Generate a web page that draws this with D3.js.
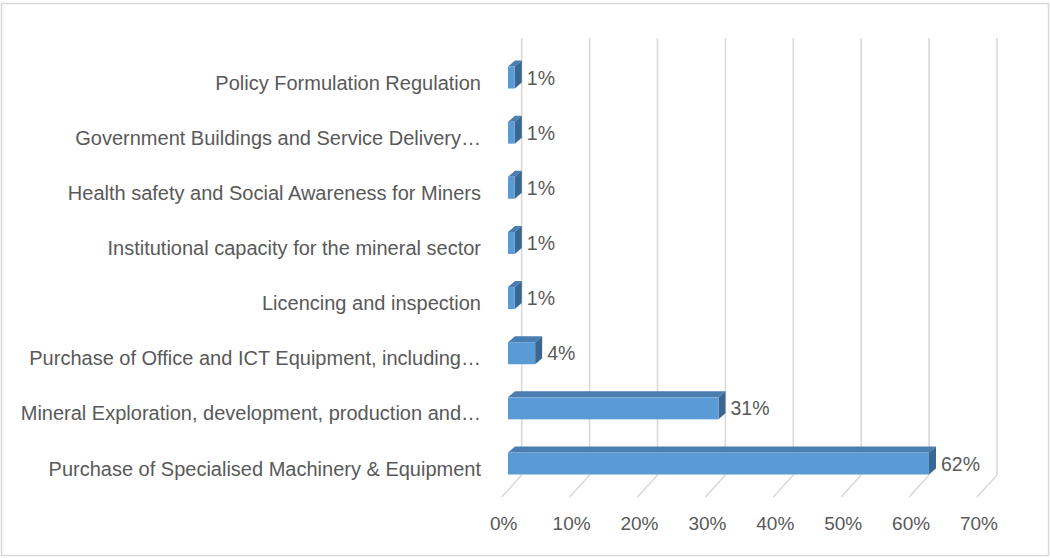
<!DOCTYPE html>
<html>
<head>
<meta charset="utf-8">
<script src="https://cdn.jsdelivr.net/npm/d3@7/dist/d3.min.js"></script>
<style>
  html, body { margin: 0; padding: 0; background: #fff; }
  svg { display: block; }
  text { font-family: "Liberation Sans", Arial, sans-serif; fill: #595959; }
</style>
</head>
<body>
<svg id="chart" width="1050" height="558"></svg>
<script>
// Budget share by programme area (top to bottom as drawn)
const categories = [
  "Policy Formulation Regulation",
  "Government Buildings and Service Delivery…",
  "Health safety and Social Awareness for Miners",
  "Institutional capacity for the mineral sector",
  "Licencing and inspection",
  "Purchase of Office and ICT Equipment, including…",
  "Mineral Exploration, development, production and…",
  "Purchase of Specialised Machinery & Equipment"
];
const shares = [0.01, 0.01, 0.01, 0.01, 0.01, 0.04, 0.31, 0.62];
const valueLabels = ["1%", "1%", "1%", "1%", "1%", "4%", "31%", "62%"];
const ticks = [0, 0.1, 0.2, 0.3, 0.4, 0.5, 0.6, 0.7];

const svg = d3.select("#chart");
const W = 1050, H = 558;

// outer chart border
svg.append("rect")
  .attr("x", 1.5).attr("y", 3.5)
  .attr("width", W - 3).attr("height", H - 6)
  .attr("fill", "#fff").attr("stroke", "#d9d9d9").attr("stroke-width", 1.5);

// 3D projection: back wall, floor front edge, bar front plane
const wallTop = 38, wallBottom = 475;
const floorDX = -20, floorDY = 22;
const xBack = d3.scaleLinear().domain([0, 0.7]).range([521.7, 997]);
const xFront = d3.scaleLinear().domain([0, 0.7]).range([508, 983.3]);
const barDX = 7, barDY = -6;   // depth of each bar
const barH = 22;

const yCenter = d3.scalePoint().domain(categories).range([77.5, 463.5]);

// gridlines on the back wall and floor
const grid = svg.append("g").attr("stroke", "#d9d9d9").attr("stroke-width", 1.6).attr("fill", "none");
grid.selectAll("line.v").data(ticks).join("line")
  .attr("class", "v")
  .attr("x1", d => xBack(d)).attr("x2", d => xBack(d))
  .attr("y1", wallTop).attr("y2", wallBottom);
grid.selectAll("line.f").data(ticks).join("line")
  .attr("class", "f")
  .attr("x1", d => xBack(d)).attr("y1", wallBottom)
  .attr("x2", d => xBack(d) + floorDX).attr("y2", wallBottom + floorDY);

// tick labels under the floor edge
svg.append("g").selectAll("text").data(ticks).join("text")
  .attr("x", d => xBack(d) + floorDX + 2)
  .attr("y", 530)
  .attr("text-anchor", "middle")
  .attr("font-size", 19)
  .text(d => d3.format(".0%")(d));

// bars drawn as prisms: front, top, side faces
const rows = categories.map((c, i) => ({ c, v: shares[i], label: valueLabels[i] }));
const bars = svg.append("g").selectAll("g").data(rows).join("g");

bars.append("path") // top face
  .attr("fill", "#4a7db0")
  .attr("d", d => {
    const x0 = xFront(0), x1 = xFront(d.v), y0 = yCenter(d.c) - barH / 2;
    return `M${x0},${y0}L${x0 + barDX},${y0 + barDY}L${x1 + barDX},${y0 + barDY}L${x1},${y0}Z`;
  });
bars.append("path") // right side face
  .attr("fill", "#3a6791")
  .attr("d", d => {
    const x1 = xFront(d.v), y0 = yCenter(d.c) - barH / 2, y1 = y0 + barH;
    return `M${x1},${y0}L${x1 + barDX},${y0 + barDY}L${x1 + barDX},${y1 + barDY}L${x1},${y1}Z`;
  });
bars.append("rect") // front face
  .attr("fill", "#5b9bd5")
  .attr("x", xFront(0))
  .attr("y", d => yCenter(d.c) - barH / 2)
  .attr("width", d => xFront(d.v) - xFront(0))
  .attr("height", barH);

// value labels
bars.append("text")
  .attr("x", d => xFront(d.v) + barDX + 5)
  .attr("y", d => yCenter(d.c) + 7)
  .attr("font-size", 19.5)
  .text(d => d.label);

// category labels
svg.append("g").selectAll("text").data(categories).join("text")
  .attr("x", 481)
  .attr("y", d => yCenter(d) + 12)
  .attr("text-anchor", "end")
  .attr("font-size", 20)
  .text(d => d);
</script>
</body>
</html>
